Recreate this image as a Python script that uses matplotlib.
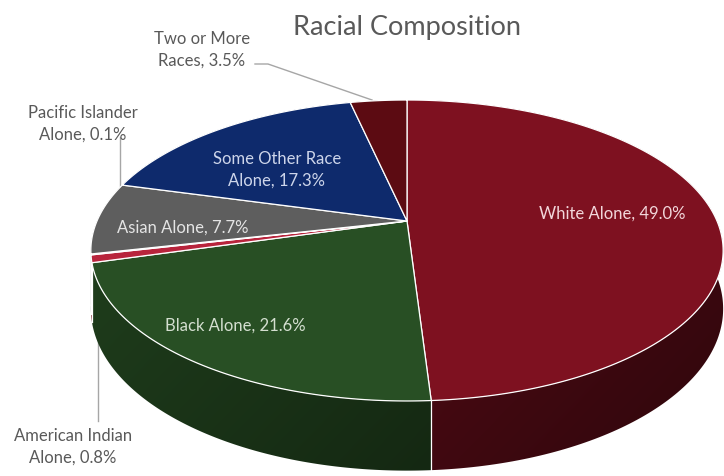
import numpy as np
import matplotlib
matplotlib.use("Agg")
import matplotlib.pyplot as plt
from matplotlib.patches import Polygon

plt.rcParams['font.family'] = ['Lato', 'DejaVu Sans']

labels = ["White Alone", "Black Alone", "American Indian\nAlone", "Pacific Islander\nAlone",
          "Asian Alone", "Some Other Race\nAlone", "Two or More\nRaces"]
shares = [49.0, 21.6, 0.8, 0.1, 7.7, 17.3, 3.5]
top_colors = ["#7e1120", "#284f24", "#b8243c", "#c9c9c9", "#5e5e5e", "#0e2a6c", "#5c0b12"]

# projection of the disc: center, radius, squash, perspective and thickness (pixels)
cx, cy = 407.0, 222.0
R, RK, P, H = 310.0, 144.7, 0.196, 56.0
W, HT = 724, 477


def project(phi, drop=0.0):
    s, c = np.sin(phi), np.cos(phi)
    w = 1.0 + P * s
    return cx + R * c / w, cy - RK * s / w + drop / w


fig = plt.figure(figsize=(7.24, 4.77), dpi=100)
ax = fig.add_axes([0, 0, 1, 1])
ax.set_xlim(0, W)
ax.set_ylim(HT, 0)
ax.axis("off")

# wedge angles, clockwise from 12 o'clock
bounds = 90.0 - np.concatenate([[0], np.cumsum(shares)]) * 3.6
starts, ends = np.radians(bounds[:-1]), np.radians(bounds[1:])

# shading of the rim: lighter on the left, darker to the right and bottom
gx, gy = np.meshgrid(np.arange(W) + 0.5, np.arange(HT) + 0.5)
rim_shade = 0.60 - 0.15 * (gx - cx) / R - 0.08 * np.clip((gy - 300) / 170, 0, 1)

order = np.argsort([np.sin((a + b) / 2) for a, b in zip(starts, ends)])[::-1]
for i in order:
    ph = np.linspace(starts[i], ends[i], 200)
    tx, ty = project(ph)
    bx, by = project(ph[::-1], H)
    poly = Polygon(list(zip(tx, ty)) + list(zip(bx, by)), closed=True,
                   facecolor="none", edgecolor="none")
    ax.add_patch(poly)
    rgb = np.array(matplotlib.colors.to_rgb(top_colors[i]))
    img = np.clip(rim_shade[..., None] * rgb, 0, 1)
    im = ax.imshow(img, extent=[0, W, HT, 0], interpolation="bilinear", zorder=1)
    im.set_clip_path(poly)

# white seams on the rim at slice boundaries
for t in np.radians(bounds[:-1]):
    if np.sin(t) < -0.05:
        xa, ya = project(t)
        xb, yb = project(t, H)
        ax.plot([xa, xb], [ya, yb], color="white", lw=0.9, zorder=2)

# top face wedges
for i in range(len(shares)):
    ph = np.linspace(starts[i], ends[i], 200)
    xs, ys = project(ph)
    pts = [(cx, cy)] + list(zip(xs, ys))
    ax.add_patch(Polygon(pts, closed=True, facecolor=top_colors[i],
                         edgecolor="white", lw=0.9, joinstyle="round", zorder=3))

# title
ax.text(407, 27, "Racial Composition", ha="center", va="center", fontsize=19.5, color="#595959")

# labels inside slices
inside = {0: (612, 214, "#f2d6da"), 1: (235, 326, "#d4dfd0"),
          4: (183, 228, "#e4e4e4"), 5: (277, 170, "#cdd5ea")}
for i, (x, y, col) in inside.items():
    ax.text(x, y, f"{labels[i]}, {shares[i]:.1f}%", ha="center", va="center",
            fontsize=12, color=col, linespacing=1.4, zorder=4)

# outside labels with leader lines
grey = "#595959"
lead = "#a6a6a6"
ax.text(202, 50, f"{labels[6]}, {shares[6]:.1f}%", ha="center", va="center",
        fontsize=12, color=grey, linespacing=1.4)
ax.plot([255, 268, 372], [65, 65, 101], color=lead, lw=1)

ax.text(83, 124, f"{labels[3]}, {shares[3]:.1f}%", ha="center", va="center",
        fontsize=12, color=grey, linespacing=1.4)
ax.plot([120, 120], [138, 188], color=lead, lw=1)

ax.text(73, 447, f"{labels[2]}, {shares[2]:.1f}%", ha="center", va="center",
        fontsize=12, color=grey, linespacing=1.4)
ax.plot([98, 98], [272, 422], color=lead, lw=1, zorder=0.5)

fig.savefig("out.png", dpi=100)
